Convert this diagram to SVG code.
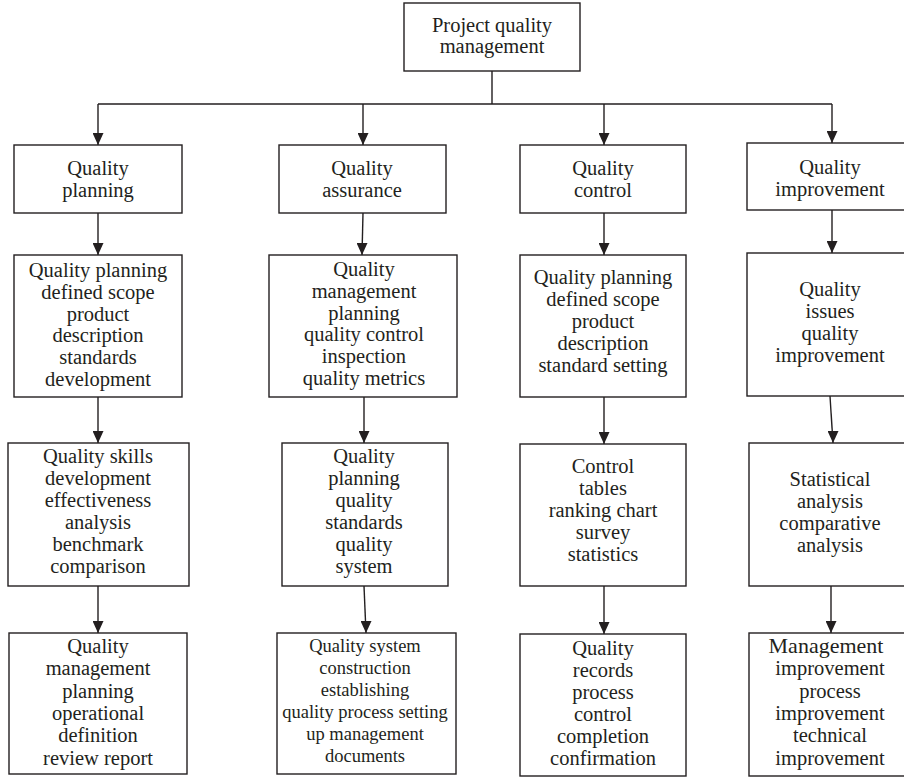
<svg xmlns="http://www.w3.org/2000/svg" width="904" height="778" viewBox="0 0 904 778">
<style>
.box{fill:none;stroke:#231f20;stroke-width:1.4}
.t{font-family:"Liberation Serif","Times New Roman",serif;font-size:20.5px;fill:#231f20;text-anchor:middle}
.s{font-size:18.5px}
.c{fill:none;stroke:#231f20;stroke-width:1.4}
.a{marker-end:url(#arr)}
</style>
<defs>
<marker id="arr" markerUnits="userSpaceOnUse" markerWidth="11" markerHeight="12" refX="5.5" refY="12" orient="0" viewBox="0 0 11 12">
<path d="M0,0 L11,0 L5.5,12 Z" fill="#231f20"/>
</marker>
</defs>
<rect width="904" height="778" fill="#fff"/>

<g id="connectors">
<path class="c" d="M492,71 V104 M98,104 H832"/>
<path class="c a" d="M98,104 V145"/>
<path class="c a" d="M363,104 V145"/>
<path class="c a" d="M604,104 V145"/>
<path class="c a" d="M832,104 V143"/>
<path class="c a" d="M98,213 V255"/>
<path class="c a" d="M363,213 L362,255"/>
<path class="c a" d="M604,213 V255"/>
<path class="c a" d="M832,210 V253"/>
<path class="c a" d="M98,397 V443"/>
<path class="c a" d="M364,397 V443"/>
<path class="c a" d="M604,397 V444"/>
<path class="c a" d="M830,396 L833,443"/>
<path class="c a" d="M98,586 V633"/>
<path class="c a" d="M364,586 L366,633"/>
<path class="c a" d="M604,586 V634"/>
<path class="c a" d="M831,586 V633"/>
</g>

<g id="root">
<rect class="box" x="404" y="3" width="176" height="68"/>
<text class="t"><tspan x="492" y="31.5">Project quality</tspan><tspan x="492" y="53.3">management</tspan></text>
</g>

<g id="qp">
<rect class="box" x="14" y="145" width="168" height="68"/>
<text class="t"><tspan x="98" y="175">Quality</tspan><tspan x="98" y="197">planning</tspan></text>
</g>
<g id="qa">
<rect class="box" x="279" y="145" width="167" height="68"/>
<text class="t"><tspan x="362" y="175">Quality</tspan><tspan x="362" y="197">assurance</tspan></text>
</g>
<g id="qc">
<rect class="box" x="520" y="145" width="166" height="68"/>
<text class="t"><tspan x="603" y="175">Quality</tspan><tspan x="603" y="197">control</tspan></text>
</g>
<g id="qi">
<rect class="box" x="747" y="143" width="160" height="67"/>
<text class="t"><tspan x="830" y="174">Quality</tspan><tspan x="830" y="196">improvement</tspan></text>
</g>

<g id="qp2">
<rect class="box" x="14" y="255" width="168" height="142"/>
<text class="t"><tspan x="98" y="277">Quality planning</tspan><tspan x="98" dy="21.8">defined scope</tspan><tspan x="98" dy="21.8">product</tspan><tspan x="98" dy="21.8">description</tspan><tspan x="98" dy="21.8">standards</tspan><tspan x="98" dy="21.8">development</tspan></text>
</g>
<g id="qa2">
<rect class="box" x="269" y="255" width="188" height="142"/>
<text class="t"><tspan x="364" y="276">Quality</tspan><tspan x="364" dy="21.8">management</tspan><tspan x="364" dy="21.8">planning</tspan><tspan x="364" dy="21.8">quality control</tspan><tspan x="364" dy="21.8">inspection</tspan><tspan x="364" dy="21.8">quality metrics</tspan></text>
</g>
<g id="qc2">
<rect class="box" x="520" y="255" width="166" height="142"/>
<text class="t"><tspan x="603" y="284">Quality planning</tspan><tspan x="603" dy="22">defined scope</tspan><tspan x="603" dy="22">product</tspan><tspan x="603" dy="22">description</tspan><tspan x="603" dy="22">standard setting</tspan></text>
</g>
<g id="qi2">
<rect class="box" x="747" y="253" width="160" height="143"/>
<text class="t"><tspan x="830" y="296">Quality</tspan><tspan x="830" dy="22">issues</tspan><tspan x="830" dy="22">quality</tspan><tspan x="830" dy="22">improvement</tspan></text>
</g>

<g id="qp3">
<rect class="box" x="8" y="443" width="181" height="143"/>
<text class="t"><tspan x="98" y="463">Quality skills</tspan><tspan x="98" dy="22">development</tspan><tspan x="98" dy="22">effectiveness</tspan><tspan x="98" dy="22">analysis</tspan><tspan x="98" dy="22">benchmark</tspan><tspan x="98" dy="22">comparison</tspan></text>
</g>
<g id="qa3">
<rect class="box" x="282" y="443" width="166" height="143"/>
<text class="t"><tspan x="364" y="463">Quality</tspan><tspan x="364" dy="22">planning</tspan><tspan x="364" dy="22">quality</tspan><tspan x="364" dy="22">standards</tspan><tspan x="364" dy="22">quality</tspan><tspan x="364" dy="22">system</tspan></text>
</g>
<g id="qc3">
<rect class="box" x="520" y="444" width="166" height="142"/>
<text class="t"><tspan x="603" y="473">Control</tspan><tspan x="603" dy="22">tables</tspan><tspan x="603" dy="22">ranking chart</tspan><tspan x="603" dy="22">survey</tspan><tspan x="603" dy="22">statistics</tspan></text>
</g>
<g id="qi3">
<rect class="box" x="749" y="443" width="158" height="143"/>
<text class="t"><tspan x="830" y="486">Statistical</tspan><tspan x="830" dy="22">analysis</tspan><tspan x="830" dy="22">comparative</tspan><tspan x="830" dy="22">analysis</tspan></text>
</g>

<g id="qp4">
<rect class="box" x="9" y="633" width="178" height="141"/>
<text class="t"><tspan x="98" y="653">Quality</tspan><tspan x="98" dy="22.3">management</tspan><tspan x="98" dy="22.3">planning</tspan><tspan x="98" dy="22.3">operational</tspan><tspan x="98" dy="22.3">definition</tspan><tspan x="98" dy="22.3">review report</tspan></text>
</g>
<g id="qa4">
<rect class="box" x="277" y="633" width="179" height="141"/>
<text class="t s"><tspan x="365" y="652">Quality system</tspan><tspan x="365" dy="22">construction</tspan><tspan x="365" dy="22">establishing</tspan><tspan x="365" dy="22">quality process setting</tspan><tspan x="365" dy="22">up management</tspan><tspan x="365" dy="22">documents</tspan></text>
</g>
<g id="qc4">
<rect class="box" x="520" y="634" width="166" height="142"/>
<text class="t"><tspan x="603" y="655">Quality</tspan><tspan x="603" dy="22">records</tspan><tspan x="603" dy="22">process</tspan><tspan x="603" dy="22">control</tspan><tspan x="603" dy="22">completion</tspan><tspan x="603" dy="22">confirmation</tspan></text>
</g>
<g id="qi4">
<rect class="box" x="749" y="633" width="158" height="143"/>
<text class="t"><tspan x="826" y="653" font-size="22">Management</tspan><tspan x="830" dy="22.3">improvement</tspan><tspan x="830" dy="22.3">process</tspan><tspan x="830" dy="22.3">improvement</tspan><tspan x="830" dy="22.3">technical</tspan><tspan x="830" dy="22.3">improvement</tspan></text>
</g>
</svg>
